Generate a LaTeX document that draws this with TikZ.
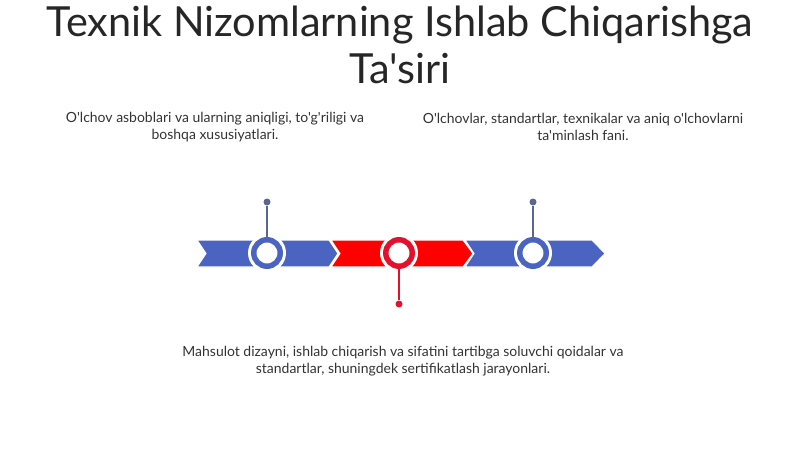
\documentclass[tikz,border=0pt]{standalone}
\usepackage{fontspec}
\setmainfont{Lato}[Ligatures=TeXOff]
\usetikzlibrary{positioning}
\definecolor{bandblue}{HTML}{4B63C1}
\definecolor{bandred}{HTML}{FF0000}
\definecolor{ringred}{HTML}{E4102C}
\definecolor{stemblue}{HTML}{5B6592}
\definecolor{textgray}{HTML}{333333}

\begin{document}
\begin{tikzpicture}[x=0.02cm,y=-0.02cm,
    ring/.style={circle,draw=#1,line width=3.1pt,fill=white,minimum size=0.53cm,inner sep=0pt},
    pin/.style={circle,fill=#1,minimum size=0.14cm,inner sep=0pt},
    stem/.style={draw=#1,line width=0.8pt},
    note/.style={align=center,text=textgray,font=\fontsize{7.95}{9.6}\selectfont}]
      \useasboundingbox (0,0) rectangle (800,449);
      % title
      \node[align=center,text=black!85,font=\fontsize{23.6}{26.6}\selectfont] (title) at (400,45)
        {Texnik Nizomlarning Ishlab Chiqarishga\\Ta'siri};
      % band
      \filldraw[fill=bandblue,draw=white,line width=0.6pt] (197,240)--(329,240)--(338,253.5)--(329,267)--(197,267)--(206,253.5)--cycle;
      \filldraw[fill=bandred,draw=white,line width=0.6pt] (331,240)--(463,240)--(473,253.5)--(463,267)--(331,267)--(340,253.5)--cycle;
      \filldraw[fill=bandblue,draw=white,line width=0.6pt] (465,240)--(592,240)--(605,253.5)--(592,267)--(465,267)--(474,253.5)--cycle;
      % rings
      \fill[white] (267,253) circle (19);
      \fill[white] (399,253) circle (19);
      \fill[white] (533,253) circle (19);
      \node[ring=bandblue] (r1) at (267,253) {};
      \node[ring=ringred] (r2) at (399,253) {};
      \node[ring=bandblue] (r3) at (533,253) {};
      \node[pin=stemblue] (p1) at (267,202) {};
      \node[pin=ringred] (p2) at (399,304) {};
      \node[pin=stemblue] (p3) at (533,202) {};
      \draw[stem=stemblue] (r1.north)--(p1);
      \draw[stem=ringred] (r2.south)--(p2);
      \draw[stem=stemblue] (r3.north)--(p3);
      % notes
      \node[note] (n1) at (215,127) {O'lchov asboblari va ularning aniqligi, to'g'riligi va\\boshqa xususiyatlari.};
      \node[note] (n3) at (583,127) {O'lchovlar, standartlar, texnikalar va aniq o'lchovlarni\\ta'minlash fani.};
      \node[note] (n2) at (403,361) {Mahsulot dizayni, ishlab chiqarish va sifatini tartibga soluvchi qoidalar va\\standartlar, shuningdek sertifikatlash jarayonlari.};
\end{tikzpicture}
\end{document}
